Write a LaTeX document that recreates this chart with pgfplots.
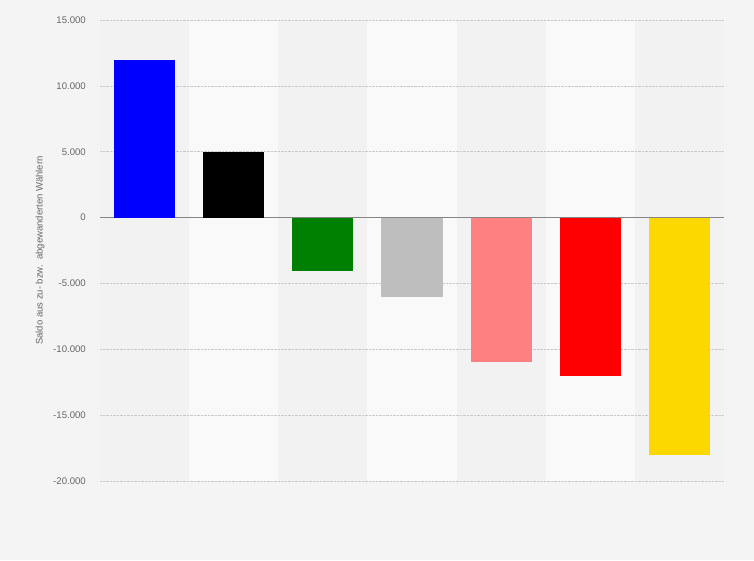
\documentclass[border=0pt]{standalone}
\usepackage{pgfplots}
\pgfplotsset{compat=1.18}
\usepackage{fontspec}
\setmainfont{Liberation Sans}
\definecolor{bg}{HTML}{F4F4F4}
\definecolor{banddark}{HTML}{F2F2F2}
\definecolor{bandlight}{HTML}{F9F9F9}
\definecolor{gridc}{HTML}{C8C8C8}
\definecolor{tickc}{HTML}{666666}
\definecolor{zeroc}{HTML}{858585}
\definecolor{cblue}{HTML}{0000FF}
\definecolor{cblack}{HTML}{000000}
\definecolor{cgreen}{HTML}{008000}
\definecolor{cgray}{HTML}{BEBEBE}
\definecolor{cpink}{HTML}{FF8080}
\definecolor{cred}{HTML}{FF0000}
\definecolor{cyellow}{HTML}{FCD700}
\pgfplotsset{mybar/.style={ybar, bar width=0.685, bar shift=0pt, draw=none, fill=#1}}
\begin{document}
\begin{tikzpicture}
\begin{axis}[
  set layers,
  clip=false,
  scale only axis,
  width=624pt, height=461pt,
  xmin=-0.5, xmax=6.5,
  ymin=-20000, ymax=15000,
  ytick={-20000,-15000,...,15000},
  scaled y ticks=false,
  xtick=\empty,
  axis line style={draw=none},
  major tick length=0pt,
  ymajorgrids,
  grid style={dash pattern=on 0.7pt off 0.7pt, color=gridc, line width=0.7pt},
  extra y ticks={0},
  extra y tick labels={},
  extra y tick style={major grid style={solid, color=zeroc, line width=1.3pt}},
  yticklabel style={inner sep=0pt, xshift=-14pt, text=tickc, font=\fontsize{9.6}{11}\selectfont},
  /pgf/number format/assume math mode=true,
  /pgf/number format/1000 sep={.},
  ylabel={Saldo aus zu- bzw.\ \ abgewanderten Wählern},
  ylabel style={at={(axis description cs:-0.096,0.5)}, anchor=center, text=tickc, font=\fontsize{9.5}{11}\selectfont},
]
\begin{pgfonlayer}{axis background}
  \fill[bg] ([xshift=-100pt,yshift=-79pt]rel axis cs:0,0) rectangle ([xshift=30pt,yshift=20pt]rel axis cs:1,1);
  \fill[banddark] (axis cs:-0.5,-20000) rectangle (axis cs:6.5,15000);
  \fill[bandlight] (axis cs:0.5,-20000) rectangle (axis cs:1.5,15000);
  \fill[bandlight] (axis cs:2.5,-20000) rectangle (axis cs:3.5,15000);
  \fill[bandlight] (axis cs:4.5,-20000) rectangle (axis cs:5.5,15000);
\end{pgfonlayer}
\addplot[mybar=cblue] coordinates {(0,12000)};
\addplot[mybar=cblack] coordinates {(1,5000)};
\addplot[mybar=cgreen] coordinates {(2,-4050)};
\addplot[mybar=cgray] coordinates {(3,-6000)};
\addplot[mybar=cpink] coordinates {(4,-11000)};
\addplot[mybar=cred] coordinates {(5,-12000)};
\addplot[mybar=cyellow] coordinates {(6,-18000)};
\end{axis}
\end{tikzpicture}
\end{document}
